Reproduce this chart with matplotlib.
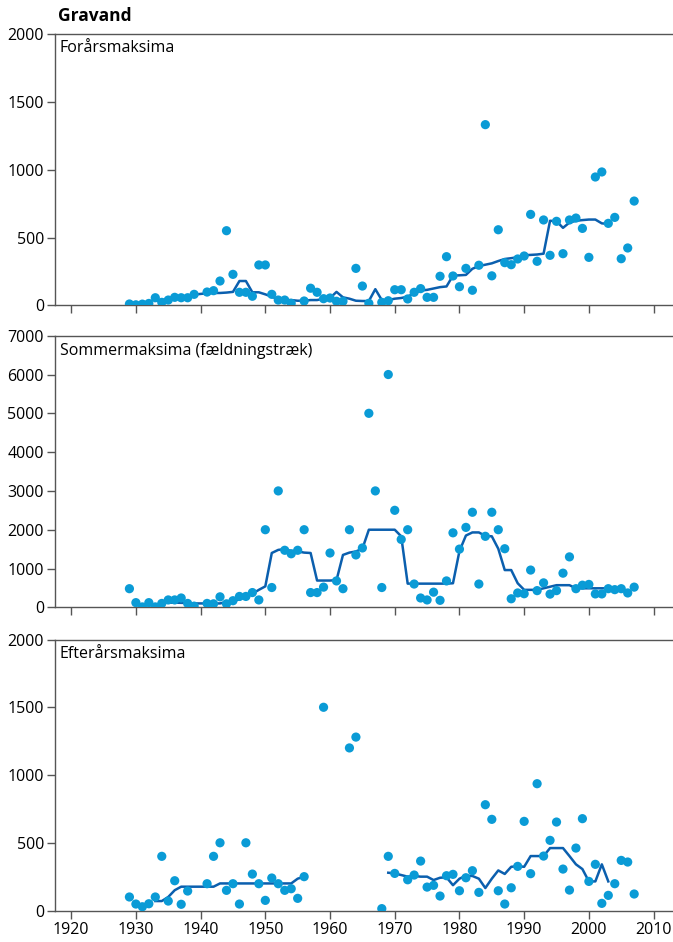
import matplotlib.pyplot as plt

plt.rcParams['font.family'] = ['Open Sans', 'DejaVu Sans']

# --- Forårsmaksima (spring maxima) ---
spring_years = [1929, 1930, 1931, 1932, 1933, 1934, 1935, 1936, 1937, 1938, 1939,
                1941, 1942, 1943, 1944, 1945, 1946, 1947, 1948, 1949, 1950, 1951,
                1952, 1953, 1954, 1956, 1957, 1958, 1959, 1960, 1961, 1962, 1964,
                1965, 1966, 1968, 1969, 1970, 1971, 1972, 1973, 1974, 1975, 1976,
                1977, 1978, 1979, 1980, 1981, 1982, 1983, 1984, 1985, 1986, 1987,
                1988, 1989, 1990, 1991, 1992, 1993, 1994, 1995, 1996, 1997, 1998,
                1999, 2000, 2001, 2002, 2003, 2004, 2005, 2006, 2007]
spring_values = [11, 5, 10, 15, 57, 23, 40, 60, 57, 57, 82,
                 99, 109, 180, 550, 229, 97, 97, 68, 298, 298, 82,
                 40, 40, 16, 33, 127, 97, 50, 55, 31, 31, 273,
                 143, 16, 23, 35, 116, 116, 48, 97, 124, 60, 60,
                 215, 359, 217, 138, 273, 112, 296, 1330, 218, 557, 315,
                 300, 342, 364, 670, 325, 629, 369, 619, 381, 629, 643,
                 567, 354, 945, 982, 604, 648, 344, 423, 768]
spring_trend_years = list(range(1933, 2004))
spring_trend = [35, 40, 45, 55, 57, 60, 80, 85, 90, 92, 92, 95, 100, 180, 180,
                97, 97, 82, 65, 45, 40, 40, 35, 35, 40, 40, 50, 55, 100, 60,
                50, 35, 33, 33, 120, 40, 40, 50, 55, 65, 90, 110, 115, 125, 135,
                140, 220, 222, 225, 270, 290, 300, 310, 327, 342, 348, 355, 370, 372,
                375, 381, 623, 620, 571, 610, 623, 628, 632, 632, 604, 600]

# --- Sommermaksima (fældningstræk) ---
summer_years = [1929, 1930, 1931, 1932, 1933, 1934, 1935, 1936, 1937, 1938, 1939,
                1941, 1942, 1943, 1944, 1945, 1946, 1947, 1948, 1949, 1950, 1951,
                1952, 1953, 1954, 1955, 1956, 1957, 1958, 1959, 1960, 1961, 1962,
                1963, 1964, 1965, 1966, 1967, 1968, 1969, 1970, 1971, 1972, 1973,
                1974, 1975, 1976, 1977, 1978, 1979, 1980, 1981, 1982, 1983, 1984,
                1985, 1986, 1987, 1988, 1989, 1990, 1991, 1992, 1993, 1994, 1995,
                1996, 1997, 1998, 1999, 2000, 2001, 2002, 2003, 2004, 2005, 2006, 2007]
summer_values = [480, 120, 10, 120, 10, 100, 190, 190, 240, 100, 30,
                 100, 90, 270, 90, 170, 280, 280, 380, 190, 2000, 510,
                 3000, 1470, 1380, 1470, 2000, 380, 380, 520, 1400, 680, 480,
                 2000, 1350, 1530, 5000, 3000, 510, 6000, 2500, 1750, 2000, 600,
                 240, 190, 390, 180, 680, 1920, 1500, 2060, 2450, 600, 1830,
                 2450, 2000, 1510, 220, 370, 350, 960, 430, 630, 340, 430,
                 880, 1300, 480, 570, 590, 345, 345, 480, 455, 480, 370, 520]
summer_trend_years = list(range(1933, 2004))
summer_trend = [50, 110, 120, 120, 115, 110, 100, 100, 100, 100, 100, 140, 170, 200,
                280, 350, 450, 540, 1400, 1480, 1500, 1450, 1440, 1410, 1400, 690,
                690, 690, 700, 1350, 1410, 1440, 1510, 2000, 2000, 2000, 2000, 2000,
                1830, 610, 610, 610, 610, 610, 610, 610, 620, 1450, 1850, 1930, 1930,
                1840, 1830, 1510, 960, 960, 620, 450, 450, 450, 490, 530, 570, 570,
                570, 490, 490, 490, 490, 490, 490]

# --- Efterårsmaksima (autumn maxima) ---
autumn_years = [1929, 1930, 1931, 1932, 1933, 1934, 1935, 1936, 1937, 1938,
                1941, 1942, 1943, 1944, 1945, 1946, 1947, 1948, 1949, 1950, 1951,
                1952, 1953, 1954, 1955, 1956, 1959, 1963, 1964, 1968, 1969, 1970,
                1972, 1973, 1974, 1975, 1976, 1977, 1978, 1979, 1980, 1981, 1982,
                1983, 1984, 1985, 1986, 1987, 1988, 1989, 1990, 1991, 1992, 1993,
                1994, 1995, 1996, 1997, 1998, 1999, 2000, 2001, 2002, 2003, 2004,
                2005, 2006, 2007]
autumn_values = [100, 48, 28, 50, 100, 400, 70, 220, 46, 144,
                 198, 400, 500, 149, 198, 48, 500, 269, 198, 75, 240,
                 198, 149, 161, 90, 250, 1500, 1200, 1280, 14, 400, 274,
                 227, 262, 365, 173, 186, 107, 257, 267, 146, 242, 294,
                 134, 781, 673, 146, 48, 168, 326, 658, 272, 936, 402,
                 518, 653, 306, 151, 461, 678, 215, 341, 53, 112, 198,
                 370, 358, 122]
autumn_trend_years_a = list(range(1933, 1957))
autumn_trend_a = [70, 70, 100, 150, 176, 176, 176, 176, 176, 176, 200, 200,
                  200, 200, 200, 200, 200, 200, 200, 200, 200, 200, 235, 250]
autumn_trend_years_b = list(range(1969, 2004))
autumn_trend_b = [279, 274, 262, 250, 255, 250, 250, 225, 242, 245, 187, 235,
                  257, 255, 235, 166, 235, 296, 270, 323, 326, 323, 402, 402,
                  402, 461, 461, 461, 402, 341, 306, 215, 215, 341, 215]

panels = [
    ("Forårsmaksima", spring_years, spring_values,
     [(spring_trend_years, spring_trend)], 2000, 500, (0.6757, 0.9644)),
    ("Sommermaksima (fældningstræk)", summer_years, summer_values,
     [(summer_trend_years, summer_trend)], 7000, 1000, (0.3553, 0.6436)),
    ("Efterårsmaksima", autumn_years, autumn_values,
     [(autumn_trend_years_a, autumn_trend_a), (autumn_trend_years_b, autumn_trend_b)],
     2000, 500, (0.0334, 0.3211)),
]

dot_color = '#0a9bd6'
line_color = '#0b5fae'
spine_color = '#555555'

fig = plt.figure(figsize=(6.73, 9.42), dpi=100)
left = 55 / 673

for i, (label, yrs, vals, trends, ymax, ystep, (bot, top)) in enumerate(panels):
    ax = fig.add_axes([left, bot, 1.0 - left, top - bot])
    for ty, tv in trends:
        ax.plot(ty, tv, color=line_color, lw=1.8, zorder=2)
    ax.scatter(yrs, vals, s=44, color=dot_color, edgecolors='none', zorder=3)
    ax.set_xlim(1917.5, 2013.0)
    ax.set_ylim(0, ymax)
    ax.set_yticks(range(0, ymax + 1, ystep))
    ax.set_xticks(range(1920, 2011, 10))
    ax.spines['right'].set_visible(False)
    for s in ['left', 'top', 'bottom']:
        ax.spines[s].set_color(spine_color)
        ax.spines[s].set_linewidth(1.0)
    ax.tick_params(axis='both', direction='out', length=6, width=1,
                   color=spine_color, labelsize=11.5, pad=2)
    if i < 2:
        ax.tick_params(axis='x', labelbottom=False)
    ax.text(0.008, 0.975, label, transform=ax.transAxes, va='top', ha='left',
            fontsize=11.5)

fig.text(58 / 673, 1 - 16 / 942, "Gravand", fontsize=12.5, fontweight='bold',
         va='center', ha='left')

fig.savefig('out.png', dpi=100)
